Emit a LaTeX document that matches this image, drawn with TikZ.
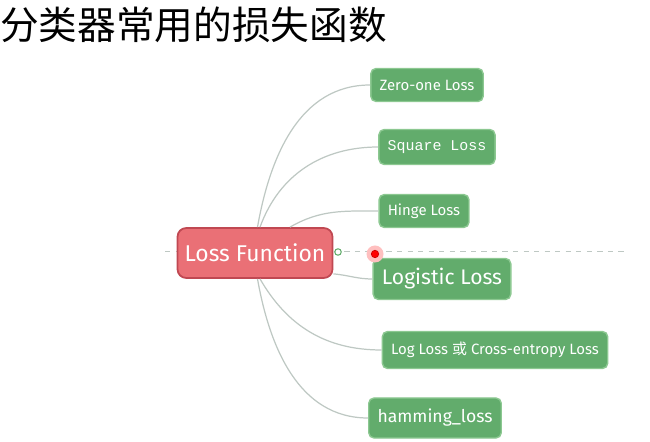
\documentclass[tikz,border=0pt]{standalone}
\usepackage{fontspec}
\setmainfont{Fira Sans}
\newfontfamily\cjkfont{Noto Sans CJK SC}
\newfontfamily\monofont{Liberation Mono}
\usetikzlibrary{positioning}
\definecolor{rootred}{RGB}{234,112,118}
\definecolor{rootedge}{RGB}{192,72,82}
\definecolor{leafgreen}{RGB}{98,172,108}
\definecolor{leafedge}{RGB}{140,200,145}
\definecolor{branchgray}{RGB}{190,200,195}
\tikzset{
  root/.style={draw=rootedge,line width=1pt,fill=rootred,rounded corners=5pt,text=white,
    minimum width=3.1cm,minimum height=1cm,font=\fontsize{13}{15}\selectfont},
  leaf/.style={draw=leafedge,line width=.8pt,fill=leafgreen,rounded corners=3pt,text=white,
    inner xsep=5pt,font=\fontsize{8.5}{10}\selectfont},
  branch/.style={draw=branchgray,line width=.7pt}
}
\begin{document}
\begin{tikzpicture}
\useasboundingbox (0,0) rectangle (13,8.84);
% title
\node[anchor=west,font=\cjkfont\fontsize{22}{24}\selectfont] (title) at (-0.12,8.34) {分类器常用的损失函数};
% guide line
\draw[branchgray,dashed,line width=.5pt] (3.3,3.82) coordinate (gl) -- (12.5,3.82) coordinate (gr);
% nodes
\node[root] (lf) at (5.1,3.78) {Loss Function};
\node[leaf,minimum height=0.66cm] (zo) at (8.54,7.14) {Zero-one Loss};
\node[leaf,minimum height=0.7cm,font=\monofont\fontsize{8.5}{10}\selectfont] (sq) at (8.74,5.9) {Square Loss};
\node[leaf,minimum height=0.66cm] (hi) at (8.48,4.62) {Hinge Loss};
\node[leaf,minimum height=0.82cm,font=\fontsize{12}{14}\selectfont] (lg) at (8.84,3.26) {Logistic Loss};
\node[leaf,minimum height=0.74cm] (ll) at (9.9,1.84) {Log Loss {\cjkfont 或} Cross-entropy Loss};
\node[leaf,minimum height=0.8cm,font=\fontsize{10}{12}\selectfont] (ha) at (8.7,0.48) {hamming\_loss};
% connectors
\draw[branch] ([xshift=0.05cm]lf.north) to[out=80,in=180] (zo.west);
\draw[branch] ([xshift=0.1cm]lf.north) to[out=70,in=180] (sq.west);
\draw[branch] ([xshift=0.7cm]lf.north) to[out=30,in=180] (hi.west);
\draw[branch] ([yshift=0.1cm]lf.south east) to[out=-5,in=180] (lg.west);
\draw[branch] ([xshift=0.1cm]lf.south) to[out=-60,in=180] (ll.west);
\draw[branch] ([xshift=0.05cm]lf.south) to[out=-80,in=180] (ha.west);
% collapse mark and cursor
\node[draw=leafgreen,fill=white,circle,inner sep=1.3pt,line width=.6pt] (cm) at (6.76,3.8) {};
\fill[red!25] (7.5,3.76) circle (0.17);
\node[draw=red!80!black,fill=red,circle,inner sep=1.5pt] (cur) at (7.5,3.76) {};
\end{tikzpicture}
\end{document}
